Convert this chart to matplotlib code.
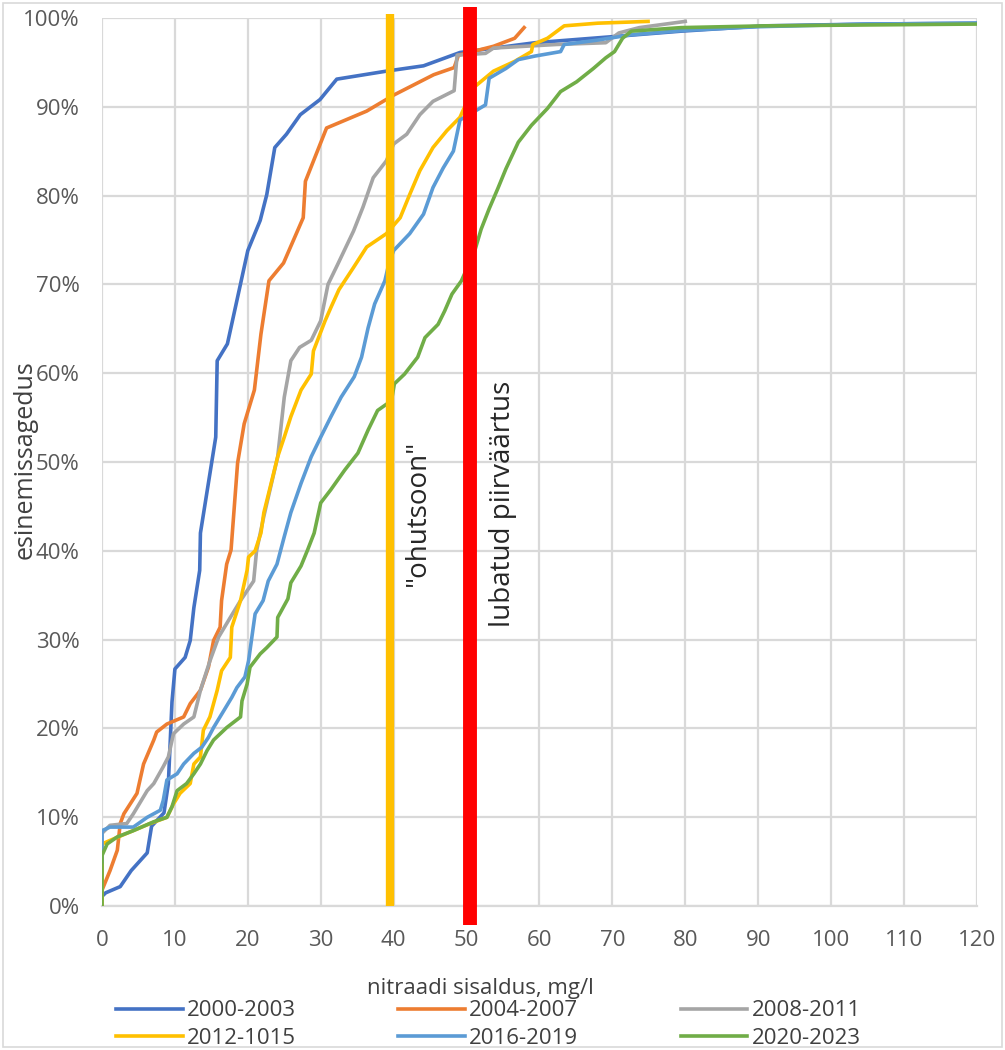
import numpy as np
import matplotlib
matplotlib.use("Agg")
from matplotlib import pyplot as plt
from matplotlib.ticker import PercentFormatter
from matplotlib.patches import Rectangle

# cumulative frequency curves (x in mg/l, y in %)
x_0003 = [0, 0.5, 2.5, 4, 6.2, 6.8, 8.5, 9.1, 9.6, 10, 11.4, 12.1, 12.6, 13.4, 13.5,
          15.6, 15.8, 17.2, 20, 21.7, 22.6, 23.7, 25.3, 27.2, 29.9, 32.2, 39, 44.1,
          49.1, 59.4, 70.3, 79.4, 90.9, 105, 120]
y_0003 = [1.1, 1.5, 2.2, 4, 6, 9, 10.5, 13.8, 23, 26.7, 28, 29.9, 33.6, 37.8, 42,
          52.8, 61.4, 63.3, 73.8, 77.2, 80.1, 85.4, 86.9, 89.1, 90.8, 93.1, 94, 94.6,
          96.1, 97.2, 97.9, 98.5, 99.1, 99.3, 99.4]

x_0407 = [0, 1.1, 2.1, 2.5, 3, 4.8, 5.7, 7.1, 7.5, 8.9, 11.2, 12.1, 13.5, 14.6, 15.3,
          16.2, 16.4, 17.1, 17.7, 18.6, 19.5, 20.9, 21.8, 22.9, 24.9, 27.6, 27.9,
          30.8, 36.3, 40, 45.5, 48.3, 48.9, 53.7, 56.6, 57.9]
y_0407 = [1.8, 4, 6.3, 9.3, 10.4, 12.7, 16, 18.7, 19.6, 20.5, 21.3, 22.8, 24.3, 26.9,
          29.9, 31.4, 34.4, 38.5, 40.1, 49.9, 54.3, 58.1, 64.4, 70.4, 72.4, 77.5,
          81.6, 87.6, 89.5, 91.3, 93.6, 94.4, 95.8, 96.8, 97.7, 98.9]

x_0811 = [0, 0, 1.1, 3.4, 4.3, 6.2, 7.1, 8.4, 9.1, 9.8, 11.2, 12.6, 13.5, 14.8, 16,
          17.6, 19, 20.8, 21.2, 22.2, 24.1, 25, 25.9, 27.1, 28.7, 30, 31, 32.3, 34.5,
          35.8, 37.2, 39, 40, 41.8, 43.6, 45.4, 48.3, 48.7, 52.6, 53.7, 62.3, 69.1,
          70.9, 73.7, 80]
y_0811 = [0, 8.2, 9.1, 9.3, 10.4, 13, 13.8, 15.7, 16.8, 19.4, 20.5, 21.3, 24.3, 27.6,
          30.3, 32.5, 34.4, 36.6, 40, 43.9, 50.6, 57.3, 61.4, 62.9, 63.7, 65.9, 70,
          72.2, 76, 78.7, 82, 83.9, 85.8, 86.9, 89.1, 90.6, 91.8, 95.8, 96, 96.6, 97,
          97.2, 98.3, 98.9, 99.6]

x_1215 = [0, 0, 1.1, 3.4, 6.6, 8.9, 9.8, 10.7, 12.1, 12.6, 13.5, 13.9, 14.8, 15.8,
          16.4, 17.6, 17.8, 19, 19.9, 20.1, 21, 21.8, 22.2, 23.2, 24.1, 25, 25.9,
          27.3, 28.7, 29, 30.6, 31.4, 32.5, 34.5, 36.3, 39, 40.9, 42.2, 43.6, 45.4,
          47.3, 49.1, 50.9, 53.7, 56.6, 58.9, 59.1, 61.1, 63.4, 68, 74.9]
y_1215 = [0, 7, 7.4, 8.2, 9.3, 10, 11.5, 12.7, 13.8, 16, 16.8, 19.8, 21.3, 24.3, 26.5,
          28, 31.4, 34.4, 37.8, 39.3, 40, 42, 44.3, 47.6, 50.6, 52.8, 55.1, 58.1,
          59.9, 62.5, 65.9, 67.4, 69.4, 71.9, 74.2, 75.7, 77.5, 80.1, 82.8, 85.4,
          87.3, 88.8, 92.1, 94, 95.1, 96.2, 97, 97.7, 99.1, 99.4, 99.6]

x_1619 = [0, 0, 1.1, 4.3, 6.2, 8, 8.4, 8.9, 10.3, 11.2, 12.6, 13.7, 14.6, 15.3, 16.7,
          17.8, 18.5, 19.6, 20.1, 21, 22.1, 22.8, 24, 25, 25.9, 27.3, 28.7, 30, 31.4,
          32.8, 34.6, 35.6, 36.5, 37.4, 38.8, 39.4, 40, 42.2, 44.1, 45.4, 46.8, 48.2,
          49.1, 52.6, 53.1, 55.4, 57.1, 59.4, 62.9, 63.4, 68, 72.6, 80, 90, 105, 120]
y_1619 = [5, 8.5, 8.9, 8.9, 10, 10.8, 11.9, 14.2, 14.9, 16, 17.2, 17.9, 19, 20.1, 22,
          23.5, 24.6, 25.8, 27.6, 32.9, 34.4, 36.6, 38.5, 41.6, 44.3, 47.6, 50.6,
          52.8, 55.1, 57.3, 59.6, 61.8, 65.1, 67.8, 70.4, 72.5, 73.8, 75.7, 77.9,
          80.9, 83.1, 85, 88.5, 90.2, 93.2, 94.3, 95.3, 95.7, 96.2, 97, 97.5, 98.1,
          98.6, 99, 99.3, 99.4]

x_2023 = [0, 0, 0.7, 2.1, 4.3, 7.1, 8.9, 9.6, 10.3, 11.6, 12.6, 13.5, 14.4, 15.3,
          17.1, 19, 19.2, 19.9, 20.3, 21.7, 22.6, 24, 24.1, 25.5, 25.9, 27.3, 28.2,
          29.1, 30, 31.4, 33.3, 35.1, 36.5, 37.8, 39.7, 40.1, 41.5, 43.3, 44.3, 46.1,
          47, 48, 49.3, 51.1, 52, 53.1, 54.3, 55.4, 57.1, 58.9, 61.1, 62.9, 65.1, 67.4,
          69.1, 70.3, 71.4, 72.6, 79.4, 90.9, 105, 120]
y_2023 = [0, 5.7, 7, 7.8, 8.5, 9.5, 10, 11.2, 13, 13.8, 14.9, 16, 17.5, 18.7, 20.1,
          21.3, 23.1, 25, 26.9, 28.4, 29.1, 30.3, 32.5, 34.6, 36.4, 38.3, 40.1, 42,
          45.4, 46.9, 49.1, 51, 53.6, 55.8, 56.9, 58.8, 59.9, 61.8, 64, 65.5, 67,
          68.9, 70.4, 73.7, 76.2, 78.5, 80.8, 83, 86, 87.9, 89.8, 91.7, 92.8, 94.3,
          95.5, 96.2, 97.7, 98.5, 98.9, 99.1, 99.2, 99.3]

labels = ["2000-2003", "2004-2007", "2008-2011", "2012-1015", "2016-2019", "2020-2023"]
colors = ["#4472C4", "#ED7D31", "#A5A5A5", "#FFC000", "#5B9BD5", "#70AD47"]
series = [(x_0003, y_0003), (x_0407, y_0407), (x_0811, y_0811),
          (x_1215, y_1215), (x_1619, y_1619), (x_2023, y_2023)]

risk_x = 39.5      # "ohutsoon"
limit_x = 50.5     # lubatud piirvaartus

plt.rcParams['font.family'] = ['Open Sans', 'DejaVu Sans']

fig = plt.figure(figsize=(10.05, 10.5), dpi=100)
ax = fig.add_axes([0.1015, 0.137, 0.8705, 0.846])

handles = []
for (xs, ys), lab, col in zip(series, labels, colors):
    h, = ax.plot(xs, ys, color=col, lw=2.6, label=lab, zorder=3)
    handles.append(h)

ax.plot([risk_x, risk_x], [0, 100.4], color="#FFC000", lw=6, zorder=4,
        clip_on=False, solid_capstyle='butt')
ax.plot([limit_x, limit_x], [-2.1, 101.2], color="#FF0000", lw=10, zorder=5,
        clip_on=False, solid_capstyle='butt')

ax.text(43.3, 44.3, '"ohutsoon"', rotation=90, ha='center', va='center',
        fontsize=20, color='#262626')
ax.text(55.0, 45.3, 'lubatud piirväärtus', rotation=90, ha='center', va='center',
        fontsize=20, color='#262626')

ax.set_xlim(0, 120)
ax.set_ylim(0, 100)
ax.set_xticks(np.arange(0, 121, 10))
ax.set_yticks(np.arange(0, 101, 10))
ax.yaxis.set_major_formatter(PercentFormatter(decimals=0))
ax.grid(True, color='#D9D9D9', lw=1.6, zorder=0)
ax.set_axisbelow(True)
for s in ['top', 'right', 'left']:
    ax.spines[s].set_visible(False)
ax.spines['bottom'].set_color('#D9D9D9')
ax.spines['bottom'].set_linewidth(1.6)
ax.tick_params(length=0, labelsize=16, labelcolor='#595959')
ax.tick_params(axis='x', pad=17)
ax.tick_params(axis='y', pad=16)

fig.text(0.025, 0.562, 'esinemissagedus', rotation=90, ha='center', va='center',
         fontsize=18, color='#404040')
fig.text(0.478, 0.059, 'nitraadi sisaldus, mg/l', ha='center', va='center',
         fontsize=16, color='#404040')

order = [0, 3, 1, 4, 2, 5]
fig.legend([handles[i] for i in order], [labels[i] for i in order], ncol=3,
           loc='center', bbox_to_anchor=(0.486, 0.024), frameon=False,
           fontsize=16, handlelength=3.0, columnspacing=4.6, handletextpad=0.2,
           labelspacing=0.3, labelcolor='#404040', borderpad=0)

fig.patches.append(Rectangle((0.003, 0.003), 0.994, 0.994, transform=fig.transFigure,
                             fill=False, edgecolor='#D9D9D9', lw=1.2))

plt.savefig('out.png', dpi=100)
